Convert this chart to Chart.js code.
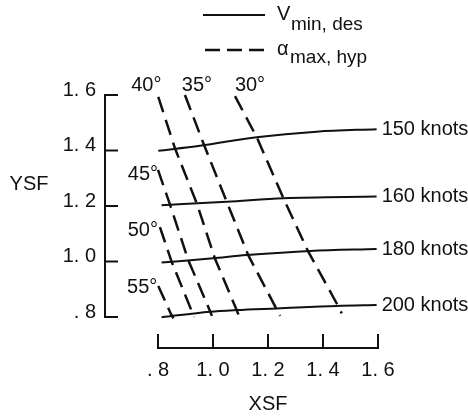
<!DOCTYPE html>
<html><head><meta charset="utf-8">
<script src="https://cdn.jsdelivr.net/npm/chart.js@4/dist/chart.umd.min.js"></script>
<style>html,body{margin:0;padding:0;background:#fff;}canvas{display:block;}</style>
</head><body>
<canvas id="c" width="468" height="416"></canvas>
<script>
// ---- data ----
const xTickValues = [0.8, 1.0, 1.2, 1.4, 1.6];
const xTickLabels = ['. 8', '1. 0', '1. 2', '1. 4', '1. 6'];
const yTickValues = [0.8, 1.0, 1.2, 1.4, 1.6];
const yTickLabels = ['. 8', '1. 0', '1. 2', '1. 4', '1. 6'];
const xTitle = 'XSF';
const yTitle = 'YSF';

const speedLabels = ['150 knots', '160 knots', '180 knots', '200 knots'];
const v150X = [0.801, 0.953, 1.159, 1.377, 1.595];
const v150Y = [1.399, 1.417, 1.448, 1.468, 1.477];
const v160X = [0.813, 1.050, 1.256, 1.595];
const v160Y = [1.203, 1.215, 1.228, 1.234];
const v180X = [0.813, 1.001, 1.123, 1.353, 1.595];
const v180Y = [0.996, 1.012, 1.023, 1.038, 1.045];
const v200X = [0.813, 0.989, 1.086, 1.232, 1.450, 1.595];
const v200Y = [0.799, 0.819, 0.825, 0.831, 0.840, 0.843];

const alphaLabels = ['40°', '35°', '30°', '45°', '50°', '55°'];
const a40X = [0.801, 0.862, 0.942, 1.007, 1.086, 1.095];
const a40Y = [1.593, 1.407, 1.207, 1.011, 0.825, 0.802];
const a35X = [0.898, 0.965, 1.050, 1.128, 1.233, 1.244];
const a35Y = [1.600, 1.426, 1.215, 1.023, 0.825, 0.804];
const a30X = [1.080, 1.159, 1.256, 1.344, 1.458, 1.468];
const a30Y = [1.596, 1.448, 1.228, 1.040, 0.834, 0.813];
const a45X = [0.800, 0.844, 0.910, 0.989, 0.996];
const a45Y = [1.330, 1.204, 1.005, 0.822, 0.804];
const a50X = [0.807, 0.850, 0.924, 0.931];
const a50Y = [1.124, 0.998, 0.818, 0.800];
const a55X = [0.801, 0.847, 0.856];
const a55Y = [0.912, 0.811, 0.795];

const legendSolidMain = 'V', legendSolidSub = 'min, des';
const legendDashMain = 'α', legendDashSub = 'max, hyp';

// ---- build ----
const zip = (xs, ys) => xs.map((x, i) => ({x, y: ys[i]}));
const INK = '#111';
const F = '"Liberation Sans", Arial, sans-serif';

const speedSets = [[v150X, v150Y], [v160X, v160Y], [v180X, v180Y], [v200X, v200Y]];
const alphaSets = [[a40X, a40Y], [a35X, a35Y], [a30X, a30Y], [a45X, a45Y], [a50X, a50Y], [a55X, a55Y]];

const datasets = [];
speedSets.forEach((s, i) => datasets.push({
  label: speedLabels[i], data: zip(s[0], s[1]), showLine: true,
  borderColor: INK, borderWidth: 2, pointRadius: 0, pointHoverRadius: 0,
  cubicInterpolationMode: 'monotone', clip: false, kind: 'speed'
}));
alphaSets.forEach((s, i) => datasets.push({
  label: alphaLabels[i], data: zip(s[0], s[1]), showLine: true,
  borderColor: INK, borderWidth: 2.5, borderDash: [16, 8], pointRadius: 0, pointHoverRadius: 0,
  tension: 0, clip: false, kind: 'alpha'
}));

// label placement relative to first point of each alpha line (px)
const alphaLabelPlace = [
  {dx: -12, dy: -11, align: 'center'},
  {dx: 12, dy: -10, align: 'center'},
  {dx: 15, dy: -11, align: 'center'},
  {dx: 0, dy: 5, align: 'right'},
  {dx: -2, dy: 3, align: 'right'},
  {dx: -1, dy: 2, align: 'right'}
];

const decor = {
  id: 'decor',
  afterDatasetsDraw(chart) {
    const {ctx, chartArea: a, scales: {x, y}} = chart;
    ctx.save();
    ctx.strokeStyle = INK; ctx.fillStyle = INK; ctx.setLineDash([]);
    ctx.lineWidth = 2;
    // offset y axis
    const ax = a.left - 53;
    const yTop = y.getPixelForValue(yTickValues[yTickValues.length - 1]);
    const yBot = y.getPixelForValue(yTickValues[0]);
    ctx.beginPath(); ctx.moveTo(ax, yTop - 1); ctx.lineTo(ax, yBot + 1); ctx.stroke();
    yTickValues.forEach(v => {
      const p = y.getPixelForValue(v);
      ctx.beginPath(); ctx.moveTo(ax, p); ctx.lineTo(ax + 13, p); ctx.stroke();
    });
    // offset x axis
    const ay = a.bottom + 31;
    const xL = x.getPixelForValue(xTickValues[0]);
    const xR = x.getPixelForValue(xTickValues[xTickValues.length - 1]);
    ctx.beginPath(); ctx.moveTo(xL - 1, ay); ctx.lineTo(xR + 1, ay); ctx.stroke();
    xTickValues.forEach(v => {
      const p = x.getPixelForValue(v);
      ctx.beginPath(); ctx.moveTo(p, ay); ctx.lineTo(p, ay - 14); ctx.stroke();
    });
    // speed labels
    ctx.font = '20px ' + F; ctx.textBaseline = 'middle'; ctx.textAlign = 'left';
    chart.data.datasets.forEach((ds, di) => {
      const meta = chart.getDatasetMeta(di);
      if (ds.kind === 'speed') {
        const pt = meta.data[meta.data.length - 1];
        ctx.fillText(ds.label, pt.x + 5, pt.y);
      }
    });
    // alpha labels
    let k = 0;
    chart.data.datasets.forEach((ds, di) => {
      if (ds.kind !== 'alpha') return;
      const pt = chart.getDatasetMeta(di).data[0];
      const pl = alphaLabelPlace[k++];
      ctx.textAlign = pl.align;
      ctx.fillText(ds.label, pt.x + pl.dx, pt.y + pl.dy);
    });
    // y title (horizontal)
    ctx.textAlign = 'center';
    ctx.fillText(yTitle, ax - 76, (a.top + a.bottom) / 2 - 22);
    // legend
    ctx.textBaseline = 'alphabetic'; ctx.textAlign = 'left';
    ctx.lineWidth = 2;
    ctx.beginPath(); ctx.moveTo(203, 15); ctx.lineTo(265, 15); ctx.stroke();
    ctx.font = '20px ' + F; ctx.fillText(legendSolidMain, 277, 20);
    ctx.font = '19px ' + F; ctx.fillText(legendSolidSub, 291, 30);
    ctx.lineWidth = 2.5; ctx.setLineDash([15, 7]);
    ctx.beginPath(); ctx.moveTo(205, 50); ctx.lineTo(264, 50); ctx.stroke();
    ctx.setLineDash([]);
    ctx.font = '20px ' + F; ctx.fillText(legendDashMain, 277, 55);
    ctx.font = '19px ' + F; ctx.fillText(legendDashSub, 290, 63);
    ctx.restore();
  }
};

new Chart(document.getElementById('c'), {
  type: 'scatter',
  data: {datasets},
  plugins: [decor],
  options: {
    responsive: false, animation: false,
    layout: {padding: {left: 0, top: 95, right: 90, bottom: 0}},
    plugins: {legend: {display: false}, tooltip: {enabled: false}},
    scales: {
      x: {
        type: 'linear', position: 'bottom', min: 0.8, max: 1.6,
        afterFit: s => { s.height = 99; },
        afterBuildTicks: s => { s.ticks = xTickValues.map(v => ({value: v})); },
        grid: {display: false, drawTicks: false}, border: {display: false},
        ticks: {padding: 41, color: INK, font: {family: F, size: 20}, maxRotation: 0,
          callback: (v) => xTickLabels[xTickValues.findIndex(t => Math.abs(t - v) < 1e-6)]},
        title: {display: true, text: xTitle, color: INK, font: {family: F, size: 20}, padding: {top: 0, bottom: 0}}
      },
      y: {
        type: 'linear', position: 'left', min: 0.8, max: 1.6,
        afterFit: s => { s.width = 158; },
        afterBuildTicks: s => { s.ticks = yTickValues.map(v => ({value: v})); },
        grid: {display: false, drawTicks: false}, border: {display: false},
        ticks: {padding: 62, labelOffset: -5, color: INK, font: {family: F, size: 20},
          callback: (v) => yTickLabels[yTickValues.findIndex(t => Math.abs(t - v) < 1e-6)]}
      }
    }
  }
});
</script>
</body></html>
